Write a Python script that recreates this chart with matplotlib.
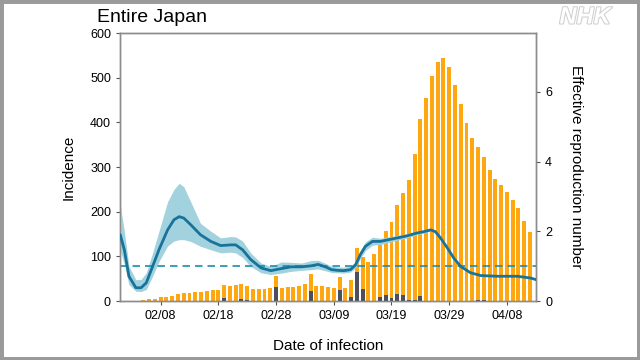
import matplotlib
matplotlib.use("Agg")
import matplotlib.pyplot as plt
import matplotlib.patheffects as pe
import numpy as np

plt.rcParams['font.family'] = ['Liberation Sans', 'DejaVu Sans']

# ---- data ----
# day offset from 02/01/2020
bar_days = list(range(72))
incidence_total = [0.5, 0.5, 1, 1, 2, 3.5, 5, 8, 10, 12, 15, 18, 19, 20, 21, 22, 24, 25,
                   36, 34, 35, 37, 33, 27, 27, 27, 28, 55, 30, 31, 32, 34, 37, 60, 34, 33,
                   31, 30, 54, 30, 48, 118, 98, 88, 106, 136, 156, 176, 214, 242, 271, 329,
                   408, 455, 503, 535, 544, 524, 484, 440, 399, 365, 344, 322, 294, 273, 260,
                   243, 226, 208, 180, 154]
dark_days = [18, 21, 22, 27, 33, 38, 40, 41, 42, 45, 46, 47, 48, 49, 50, 51, 52, 62, 63]
dark_values = [6, 4, 3, 32, 22, 24, 8, 65, 27, 9, 14, 6, 16, 13, 2, 2, 12, 2, 2]

rt_days = [0.0, 0.7, 1.5, 2.7, 3.6, 4.5, 5.6, 6.7, 8.2, 9.3, 10.2, 11.0, 12.2, 13.9, 15.7,
           17.4, 19.1, 20.0, 21.2, 22.6, 24.4, 26.1, 27.9, 29.6, 31.4, 33.1, 34.3, 35.7,
           36.6, 37.6, 38.7, 39.9, 40.8, 41.6, 42.5, 43.7, 45.1, 46.5, 48.0, 49.7, 51.4,
           52.6, 53.8, 54.6, 55.5, 56.7, 57.8, 59.0, 60.7, 62.5, 65.3, 68.8, 71.1, 72.1]
rt_mid = [1.90, 1.47, 0.71, 0.38, 0.38, 0.52, 0.99, 1.47, 2.04, 2.33, 2.42, 2.38, 2.19, 1.90,
          1.71, 1.59, 1.61, 1.61, 1.47, 1.19, 0.95, 0.87, 0.93, 0.98, 0.98, 1.01, 1.05, 0.97,
          0.90, 0.88, 0.87, 0.90, 1.04, 1.33, 1.57, 1.71, 1.71, 1.76, 1.81, 1.87, 1.95,
          1.99, 2.04, 1.99, 1.81, 1.52, 1.23, 0.99, 0.81, 0.73, 0.71, 0.71, 0.66, 0.61]
rt_low = [1.45, 1.05, 0.47, 0.28, 0.27, 0.33, 0.71, 1.13, 1.58, 1.72, 1.76, 1.76, 1.71, 1.57,
          1.47, 1.38, 1.40, 1.38, 1.25, 0.99, 0.81, 0.76, 0.80, 0.85, 0.88, 0.90, 0.92, 0.86,
          0.82, 0.81, 0.80, 0.83, 0.95, 1.22, 1.45, 1.60, 1.62, 1.68, 1.74, 1.81, 1.90,
          1.95, 2.01, 1.97, 1.80, 1.51, 1.22, 0.99, 0.81, 0.73, 0.71, 0.71, 0.66, 0.61]
rt_high = [2.75, 2.00, 1.00, 0.61, 0.62, 0.81, 1.38, 2.00, 2.85, 3.20, 3.38, 3.28, 2.85, 2.23,
           2.00, 1.81, 1.85, 1.84, 1.72, 1.38, 1.09, 0.99, 1.12, 1.11, 1.09, 1.16, 1.17, 1.07,
           1.00, 0.98, 0.97, 1.00, 1.14, 1.45, 1.70, 1.83, 1.80, 1.84, 1.88, 1.93, 2.00,
           2.03, 2.07, 2.01, 1.82, 1.53, 1.24, 0.99, 0.81, 0.73, 0.71, 0.71, 0.66, 0.61]

tick_days = [7, 17, 27, 37, 47, 57, 67]
tick_labels = ["02/08", "02/18", "02/28", "03/09", "03/19", "03/29", "04/08"]
rt_threshold = 1.0

# ---- figure ----
fig = plt.figure(figsize=(6.4, 3.6), dpi=100)
fig.patch.set_facecolor('white')
ax = fig.add_axes([120/640, 59/360, 416/640, 268/360])

orange = '#FFA710'
dark = '#4B505C'
ax.bar(bar_days, incidence_total, width=0.68, color=orange, zorder=2)
ax.bar(dark_days, dark_values, width=0.68, color=dark, zorder=3)

ax.set_xlim(-0.05, 72.05)
ax.set_ylim(0, 600)
ax.set_yticks([0, 100, 200, 300, 400, 500, 600])
ax.set_xticks(tick_days)
ax.set_xticklabels(tick_labels)
ax.set_ylabel('Incidence', fontsize=11, labelpad=10)
ax.set_xlabel('Date of infection', fontsize=11, labelpad=12)

ax2 = ax.twinx()
ax2.fill_between(rt_days, rt_low, rt_high, color='#A3D2DF', lw=0, zorder=1)
ax2.plot(rt_days, rt_mid, color='#17739A', lw=2.0, zorder=3, solid_capstyle='round')
ax2.axhline(rt_threshold, color='#1C8DB0', lw=1.2, ls=(0, (4.5, 3)), zorder=2)
ax2.set_ylim(0, 7.69)
ax2.set_yticks([0, 2, 4, 6])
ax2.set_ylabel('Effective reproduction number', fontsize=11, rotation=270, labelpad=22)

for a in (ax, ax2):
    for s in a.spines.values():
        s.set_color('#8C8C8C')
        s.set_linewidth(1.0)
    a.tick_params(colors='black', labelsize=9, length=3, width=0.8, direction='out')
    a.tick_params(axis='both', color='#555555')

fig.text(97/640, 1 - 17/360, 'Entire Japan', fontsize=14, va='center', ha='left')

nhk = fig.text(585/640, 1 - 17/360, 'NHK', fontsize=17, fontweight='bold', style='italic',
               color='white', ha='center', va='center')
nhk.set_path_effects([pe.withStroke(linewidth=1.5, foreground='#CFCFCF')])

# outer grey frame
fig.add_artist(plt.Rectangle((0, 0), 1, 1, transform=fig.transFigure, fill=False,
                             edgecolor='#9A9A9A', linewidth=5))

fig.savefig('out.png', dpi=100, facecolor='white')
